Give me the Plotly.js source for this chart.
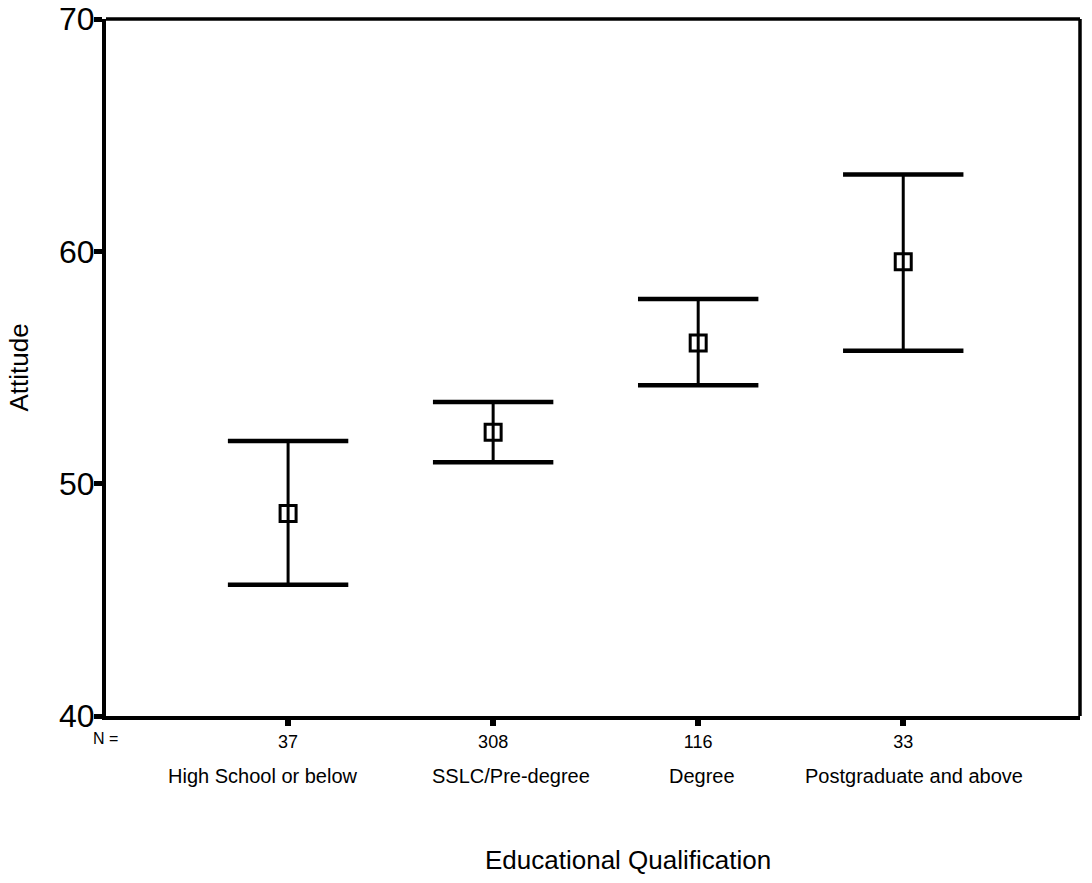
<!DOCTYPE html>
<html>
<head>
<meta charset="utf-8">
<script src="https://cdn.plot.ly/plotly-3.0.1.min.js"></script>
<style>html,body{margin:0;padding:0;background:#fff;}</style>
</head>
<body>
<div id="chart" style="width:1092px;height:883px;"></div>
<script>
// Data
const categories = ["High School or below", "SSLC/Pre-degree", "Degree", "Postgraduate and above"];
const nCounts = ["37", "308", "116", "33"];
const meanAttitude = [48.72, 52.21, 56.05, 59.55];
const upperCI = [51.84, 53.51, 57.95, 63.31];
const lowerCI = [45.65, 50.92, 54.24, 55.72];
const yTicks = [40, 50, 60, 70];

// label horizontal offsets (px) as in the reference layout
const labelShift = [-25, 18, 4, 11];

const xPos = categories.map((c, i) => i + 1);
const errPlus = upperCI.map((u, i) => u - meanAttitude[i]);
const errMinus = lowerCI.map((l, i) => meanAttitude[i] - l);

const FONT = "Arial, 'Liberation Sans', sans-serif";

const traces = [
  {
    x: xPos,
    y: meanAttitude,
    type: "scatter",
    mode: "markers",
    marker: { symbol: "square-open", size: 16, color: "#000", line: { width: 3, color: "#000" } },
    error_y: {
      type: "data", symmetric: false, array: errPlus, arrayminus: errMinus,
      color: "#000", thickness: 3, width: 0
    },
    hoverinfo: "skip", showlegend: false
  },
  {
    x: xPos.concat(xPos),
    y: upperCI.concat(lowerCI),
    type: "scatter",
    mode: "markers",
    marker: { symbol: "line-ew", size: 86, color: "#000", line: { width: 4.5, color: "#000" } },
    hoverinfo: "skip", showlegend: false
  }
];

const annotations = categories.map((c, i) => ({
  text: c, x: xPos[i], xref: "x", y: -0.086, yref: "paper", xshift: labelShift[i],
  xanchor: "center", yanchor: "middle", showarrow: false,
  font: { family: FONT, size: 20, color: "#000" }
}));
annotations.push({
  text: "N =", x: -0.001, xref: "paper", y: -0.032, yref: "paper",
  xanchor: "center", yanchor: "middle", showarrow: false,
  font: { family: FONT, size: 16, color: "#000" }
});
annotations.push({
  text: "Educational Qualification", x: 0.536, xref: "paper", y: -0.2066, yref: "paper",
  xanchor: "center", yanchor: "middle", showarrow: false,
  font: { family: FONT, size: 26, color: "#000" }
});

const layout = {
  width: 1092, height: 883,
  margin: { l: 106, r: 12, t: 19, b: 167 },
  paper_bgcolor: "#fff", plot_bgcolor: "#fff",
  font: { family: FONT, color: "#000" },
  xaxis: {
    range: [0.112, 4.862],
    tickmode: "array", tickvals: xPos, ticktext: nCounts,
    ticks: "outside", ticklen: 6, tickwidth: 6, tickcolor: "#000",
    tickfont: { family: FONT, size: 18, color: "#000" },
    showline: true, linewidth: 4, linecolor: "#000", mirror: false,
    showgrid: false, zeroline: false
  },
  yaxis: {
    range: [40, 70],
    tickmode: "array", tickvals: yTicks, ticktext: yTicks.map(String),
    ticks: "outside", ticklen: 8, tickwidth: 5, tickcolor: "#000",
    ticklabelstandoff: -7,
    tickfont: { family: FONT, size: 32, color: "#000" },
    showline: true, linewidth: 4, linecolor: "#000", mirror: false,
    showgrid: false, zeroline: false,
    title: { text: "Attitude", font: { family: FONT, size: 26, color: "#000" }, standoff: 24 }
  },
  shapes: [
    { type: "line", xref: "paper", yref: "paper", x0: 0, x1: 1, y0: 1, y1: 1, line: { color: "#000", width: 3.5 } },
    { type: "line", xref: "paper", yref: "paper", x0: 1, x1: 1, y0: 0, y1: 1, line: { color: "#000", width: 3.5 } }
  ],
  annotations: annotations
};

Plotly.newPlot("chart", traces, layout, { displayModeBar: false, staticPlot: true });
</script>
</body>
</html>
